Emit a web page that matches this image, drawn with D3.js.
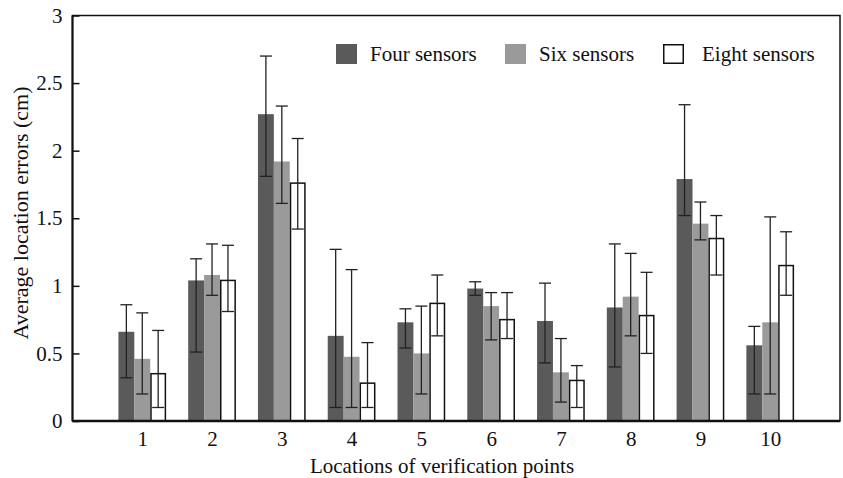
<!DOCTYPE html>
<html>
<head>
<meta charset="utf-8">
<script src="https://cdn.jsdelivr.net/npm/d3@7/dist/d3.min.js"></script>
<style>
  html, body { margin: 0; padding: 0; background: #fff; }
  svg { display: block; }
  text { font-family: "Liberation Serif", "Times New Roman", serif; fill: #111; }
</style>
</head>
<body>
<svg id="chart" width="843" height="478"></svg>
<script>
// Verification point locations
const categories = ["1", "2", "3", "4", "5", "6", "7", "8", "9", "10"];

// Series names
const seriesNames = ["Four sensors", "Six sensors", "Eight sensors"];

// Average location errors (cm) per configuration
const fourSensors  = [0.66, 1.04, 2.27, 0.63, 0.73, 0.98, 0.74, 0.84, 1.79, 0.56];
const sixSensors   = [0.46, 1.08, 1.92, 0.475, 0.50, 0.85, 0.36, 0.92, 1.46, 0.73];
const eightSensors = [0.35, 1.04, 1.76, 0.28, 0.87, 0.75, 0.30, 0.78, 1.35, 1.15];

// Error bar ranges (lower / upper ends)
const fourLow   = [0.32, 0.51, 1.81, 0.10, 0.54, 0.93, 0.43, 0.40, 1.52, 0.20];
const fourHigh  = [0.86, 1.20, 2.70, 1.27, 0.83, 1.03, 1.02, 1.31, 2.34, 0.70];
const sixLow    = [0.20, 0.93, 1.61, 0.10, 0.20, 0.60, 0.14, 0.63, 1.34, 0.20];
const sixHigh   = [0.80, 1.31, 2.33, 1.12, 0.85, 0.95, 0.61, 1.24, 1.62, 1.51];
const eightLow  = [0.10, 0.81, 1.42, 0.10, 0.63, 0.61, 0.10, 0.50, 1.08, 0.93];
const eightHigh = [0.67, 1.30, 2.09, 0.58, 1.08, 0.95, 0.41, 1.10, 1.52, 1.40];

// Y axis ticks
const yTickValues = [0, 0.5, 1, 1.5, 2, 2.5, 3];
const yTickLabels = ["0", "0.5", "1", "1.5", "2", "2.5", "3"];

const xTitle = "Locations of verification points";
const yTitle = "Average location errors (cm)";

// ---- build the table ----
const values = [fourSensors, sixSensors, eightSensors];
const lows = [fourLow, sixLow, eightLow];
const highs = [fourHigh, sixHigh, eightHigh];
const table = [];
categories.forEach((c, i) => {
  seriesNames.forEach((s, k) => {
    table.push({ cat: c, idx: i + 1, k, value: values[k][i], lo: lows[k][i], hi: highs[k][i] });
  });
});

// ---- layout ----
const svg = d3.select("#chart");
const plotL = 72.5, plotR = 840, plotT = 15.5, plotB = 421;

const x = d3.scaleLinear().domain([0, categories.length + 1]).range([plotL, plotR]);
const y = d3.scaleLinear().domain([0, 3]).range([plotB, plotT]);

const barW = x(0.228) - x(0);
const fills = ["#5a5a5a", "#9a9a9a", "#ffffff"];

// bars
const bars = svg.append("g");
bars.selectAll("rect")
  .data(table)
  .join("rect")
  .attr("x", d => x(d.idx) + (d.k - 1.5) * barW + (d.k === 2 ? 0.75 : 0))
  .attr("y", d => y(d.value))
  .attr("width", d => d.k === 2 ? barW - 1.5 : barW)
  .attr("height", d => y(0) - y(d.value))
  .attr("fill", d => fills[d.k])
  .attr("stroke", d => d.k === 2 ? "#111" : "none")
  .attr("stroke-width", 1.5);

// error bars
const capHalf = 6;
const errs = svg.append("g").attr("stroke", "#222").attr("stroke-width", 1.3).attr("fill", "none");
const cx = d => x(d.idx) + (d.k - 1) * barW;
errs.selectAll("line.v").data(table).join("line").attr("class", "v")
  .attr("x1", cx).attr("x2", cx)
  .attr("y1", d => y(d.lo)).attr("y2", d => y(d.hi));
errs.selectAll("line.t").data(table).join("line").attr("class", "t")
  .attr("x1", d => cx(d) - capHalf).attr("x2", d => cx(d) + capHalf)
  .attr("y1", d => y(d.hi)).attr("y2", d => y(d.hi));
errs.selectAll("line.b").data(table).join("line").attr("class", "b")
  .attr("x1", d => cx(d) - capHalf).attr("x2", d => cx(d) + capHalf)
  .attr("y1", d => y(d.lo)).attr("y2", d => y(d.lo));

// frame
svg.append("rect")
  .attr("x", plotL).attr("y", plotT)
  .attr("width", plotR - plotL).attr("height", plotB - plotT)
  .attr("fill", "none").attr("stroke", "#111").attr("stroke-width", 1.5);
svg.append("line").attr("x1", plotL).attr("x2", plotR).attr("y1", plotB).attr("y2", plotB)
  .attr("stroke", "#111").attr("stroke-width", 2.5);
svg.append("line").attr("x1", plotL).attr("x2", plotL).attr("y1", plotT).attr("y2", plotB)
  .attr("stroke", "#111").attr("stroke-width", 2);

// y axis (ticks pointing inward)
const yAxis = d3.axisLeft(y)
  .tickValues(yTickValues)
  .tickFormat((d, i) => yTickLabels[i])
  .tickSize(-7)
  .tickPadding(10);
const gy = svg.append("g").attr("transform", `translate(${plotL},0)`).call(yAxis);
gy.select(".domain").remove();
gy.selectAll("line").attr("stroke", "#111").attr("stroke-width", 1.5);
gy.selectAll("text").style("font-family", "Liberation Serif").style("font-size", "21px").attr("fill", "#111");

// x axis labels
const xAxis = d3.axisBottom(x)
  .tickValues(categories.map((c, i) => i + 1))
  .tickFormat((d, i) => categories[i])
  .tickSize(0)
  .tickPadding(10);
const gx = svg.append("g").attr("transform", `translate(0,${plotB})`).call(xAxis);
gx.select(".domain").remove();
gx.selectAll("text").style("font-family", "Liberation Serif").style("font-size", "21px").attr("fill", "#111");

// axis titles
svg.append("text")
  .attr("x", 442).attr("y", 473)
  .attr("text-anchor", "middle")
  .style("font-size", "21px")
  .text(xTitle);
svg.append("text")
  .attr("transform", "translate(28,213) rotate(-90)")
  .attr("text-anchor", "middle")
  .style("font-size", "22px")
  .text(yTitle);

// legend
const legendPos = [{ sx: 336, tx: 370 }, { sx: 505, tx: 539 }, { sx: 663, tx: 702 }];
const legend = svg.append("g");
seriesNames.forEach((name, k) => {
  legend.append("rect")
    .attr("x", legendPos[k].sx + (k === 2 ? 0.75 : 0))
    .attr("y", 44 + (k === 2 ? 0.75 : 0))
    .attr("width", k === 2 ? 19.5 : 21)
    .attr("height", k === 2 ? 18.5 : 20)
    .attr("fill", fills[k])
    .attr("stroke", k === 2 ? "#111" : "none")
    .attr("stroke-width", 1.5);
  legend.append("text")
    .attr("x", legendPos[k].tx).attr("y", 61)
    .style("font-size", "21px")
    .text(name);
});
</script>
</body>
</html>
